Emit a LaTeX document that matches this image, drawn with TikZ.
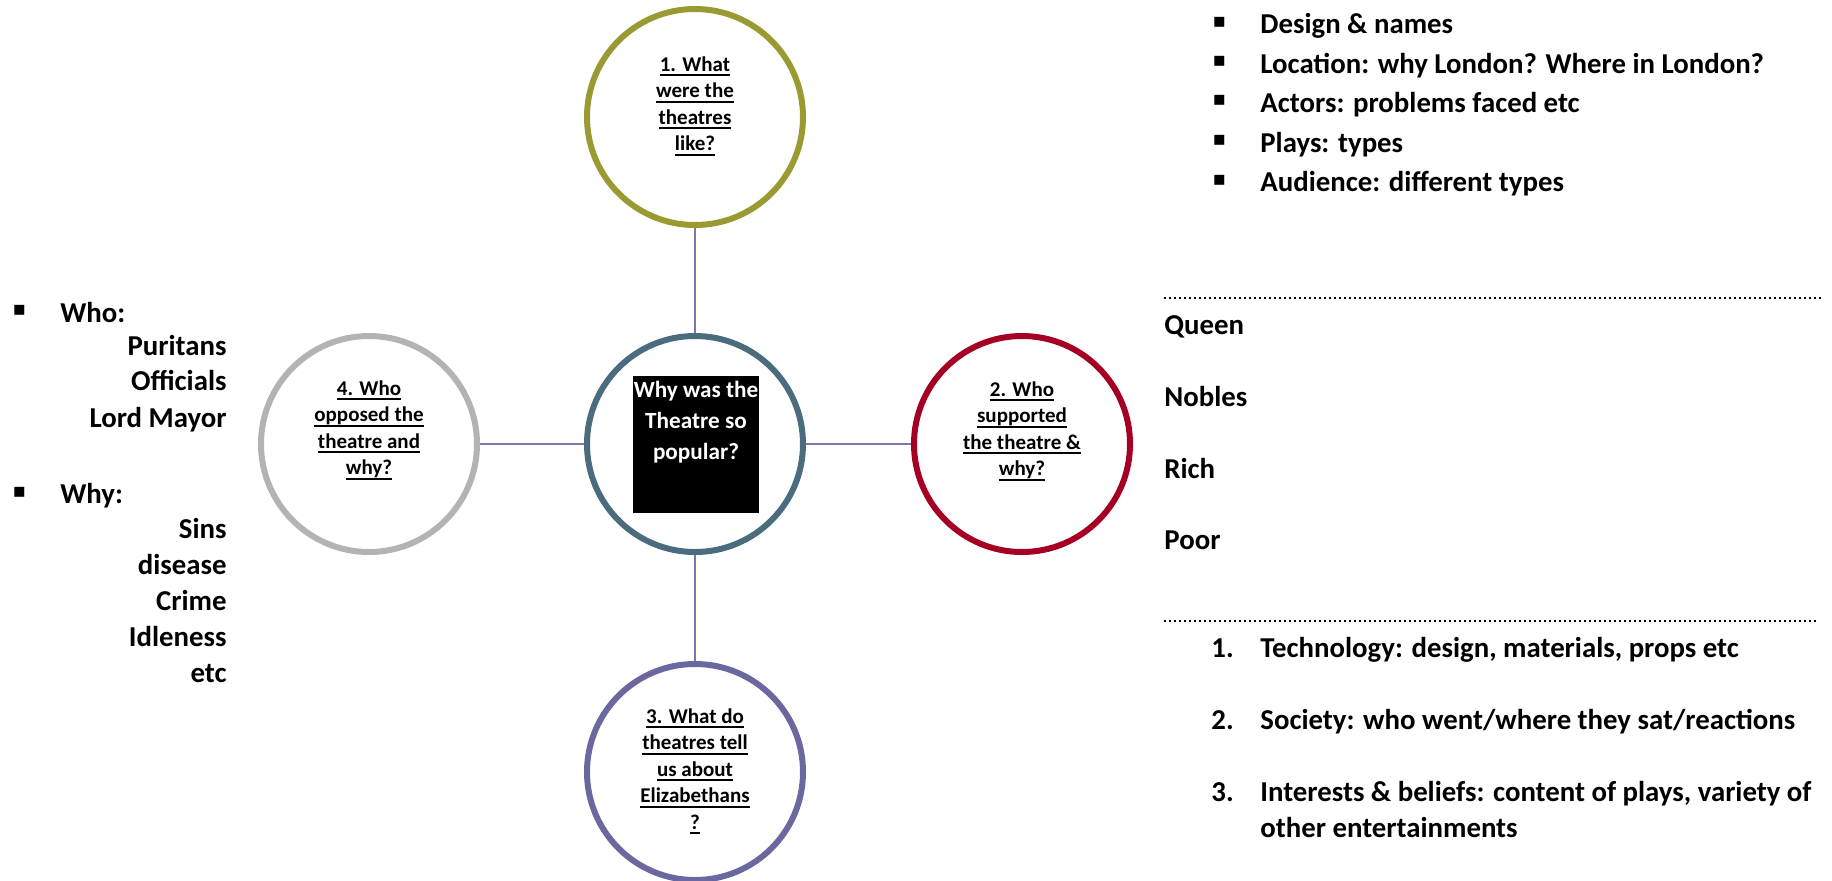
\documentclass[tikz,border=0pt]{standalone}
\usepackage{fontspec}
\setmainfont{Carlito}
\newfontfamily\symfont{DejaVu Sans}

\definecolor{olivering}{HTML}{9A9A32}
\definecolor{slatering}{HTML}{4B6B7E}
\definecolor{redring}{HTML}{A50024}
\definecolor{greyring}{HTML}{B3B3B3}
\definecolor{purplering}{HTML}{6A689E}
\definecolor{linkblue}{HTML}{7A78AE}

\newsavebox\uwordbox
\newcommand{\uword}[1]{\sbox\uwordbox{#1}\rlap{\rule[-2.6pt]{\wd\uwordbox}{1pt}}\usebox\uwordbox}

\tikzset{
  bubble/.style={circle, line width=3pt, minimum size=108pt, inner sep=0pt},
  link/.style={draw=linkblue, line width=0.85pt},
  qtext/.style={inner sep=0pt, anchor=base, font=\bfseries\fontsize{10.5}{13.25}\selectfont},
  listtext/.style={inner sep=0pt, anchor=base west, font=\bfseries\fontsize{14.4}{18}\selectfont},
  sqbullet/.style={inner sep=0pt, font=\symfont\fontsize{10}{10}\selectfont},
  sepline/.style={line width=1.2pt, dash pattern=on 0.9pt off 1.6pt}
}

\begin{document}
\begin{tikzpicture}[x=0.5pt,y=-0.5pt]
    \useasboundingbox (0,0) rectangle (1832,880);

    % the five rings
    \node[bubble, draw=olivering] (what) at (695,117) {};
    \node[bubble, draw=slatering] (hub) at (695,444) {};
    \node[bubble, draw=redring] (support) at (1022,444) {};
    \node[bubble, draw=greyring] (oppose) at (369,444) {};
    \node[bubble, draw=purplering] (tell) at (695,772) {};

    \draw[link] (what) -- (hub);
    \draw[link] (hub) -- (support);
    \draw[link] (hub) -- (oppose);
    \draw[link] (hub) -- (tell);

    \node[fill=black, minimum width=63pt, minimum height=68.5pt, inner sep=0pt] (hubbox) at (696,444.5) {};
    \node[qtext, white, font=\bfseries\fontsize{11.6}{15.5}\selectfont] (hubtext) at (696,397)
      {\begin{tabular}[t]{@{}c@{}}Why was the\\ Theatre so\\ popular?\end{tabular}};

    \node[qtext] (whattext) at (695,71)
      {\begin{tabular}[t]{@{}c@{}}\uword{1. What}\\ \uword{were the}\\ \uword{theatres}\\ \uword{like?}\end{tabular}};
    \node[qtext] (supporttext) at (1022,396)
      {\begin{tabular}[t]{@{}c@{}}\uword{2. Who}\\ \uword{supported}\\ \uword{the theatre \&}\\ \uword{why?}\end{tabular}};
    \node[qtext] (opposetext) at (369,395)
      {\begin{tabular}[t]{@{}c@{}}\uword{4. Who}\\ \uword{opposed the}\\ \uword{theatre and}\\ \uword{why?}\end{tabular}};
    \node[qtext] (telltext) at (695,723)
      {\begin{tabular}[t]{@{}c@{}}\uword{3. What do}\\ \uword{theatres tell}\\ \uword{us about}\\ \uword{Elizabethans}\\ \uword{?}\end{tabular}};

    % top right list
    \node[sqbullet] (b1) at (1219.5,22) {▪};
    \node[sqbullet] (b2) at (1219.5,61) {▪};
    \node[sqbullet] (b3) at (1219.5,100) {▪};
    \node[sqbullet] (b4) at (1219.5,140) {▪};
    \node[sqbullet] (b5) at (1219.5,180) {▪};
    \node[listtext] (design) at (1260,33) {Design \& names};
    \node[listtext] (location) at (1260,73) {Location: why London? Where in London?};
    \node[listtext] (actors) at (1260,112) {Actors: problems faced etc};
    \node[listtext] (plays) at (1260,152) {Plays: types};
    \node[listtext] (audience) at (1260,191) {Audience: different types};

    % left list
    \node[sqbullet] (bwho) at (19.5,310) {▪};
    \node[sqbullet] (bwhy) at (19.5,492) {▪};
    \node[listtext] (who) at (60,322) {Who:};
    \node[listtext, anchor=base east] (puritans) at (227,355) {Puritans};
    \node[listtext, anchor=base east] (officials) at (227,390) {Officials};
    \node[listtext, anchor=base east] (mayor) at (227,427) {Lord Mayor};
    \node[listtext] (why) at (60,503) {Why:};
    \node[listtext, anchor=base east] (sins) at (227,538) {Sins};
    \node[listtext, anchor=base east] (disease) at (227,574) {disease};
    \node[listtext, anchor=base east] (crime) at (227,610) {Crime};
    \node[listtext, anchor=base east] (idleness) at (227,646) {Idleness};
    \node[listtext, anchor=base east] (etc) at (227,682) {etc};

    % supporters
    \draw[sepline] (1164,298) -- (1823,298);
    \node[listtext] (queen) at (1164,334) {Queen};
    \node[listtext] (nobles) at (1164,406) {Nobles};
    \node[listtext] (rich) at (1164,478) {Rich};
    \node[listtext] (poor) at (1164,549) {Poor};
    \draw[sepline] (1164,621) -- (1818,621);

    % numbered list
    \node[listtext] (n1) at (1211,657) {1.};
    \node[listtext] (n2) at (1211,729) {2.};
    \node[listtext] (n3) at (1211,801) {3.};
    \node[listtext] (technology) at (1260,657) {Technology: design, materials, props etc};
    \node[listtext] (society) at (1260,729) {Society: who went/where they sat/reactions};
    \node[listtext] (interests) at (1260,801) {Interests \& beliefs: content of plays, variety of};
    \node[listtext] (other) at (1260,837) {other entertainments};

\end{tikzpicture}
\end{document}
